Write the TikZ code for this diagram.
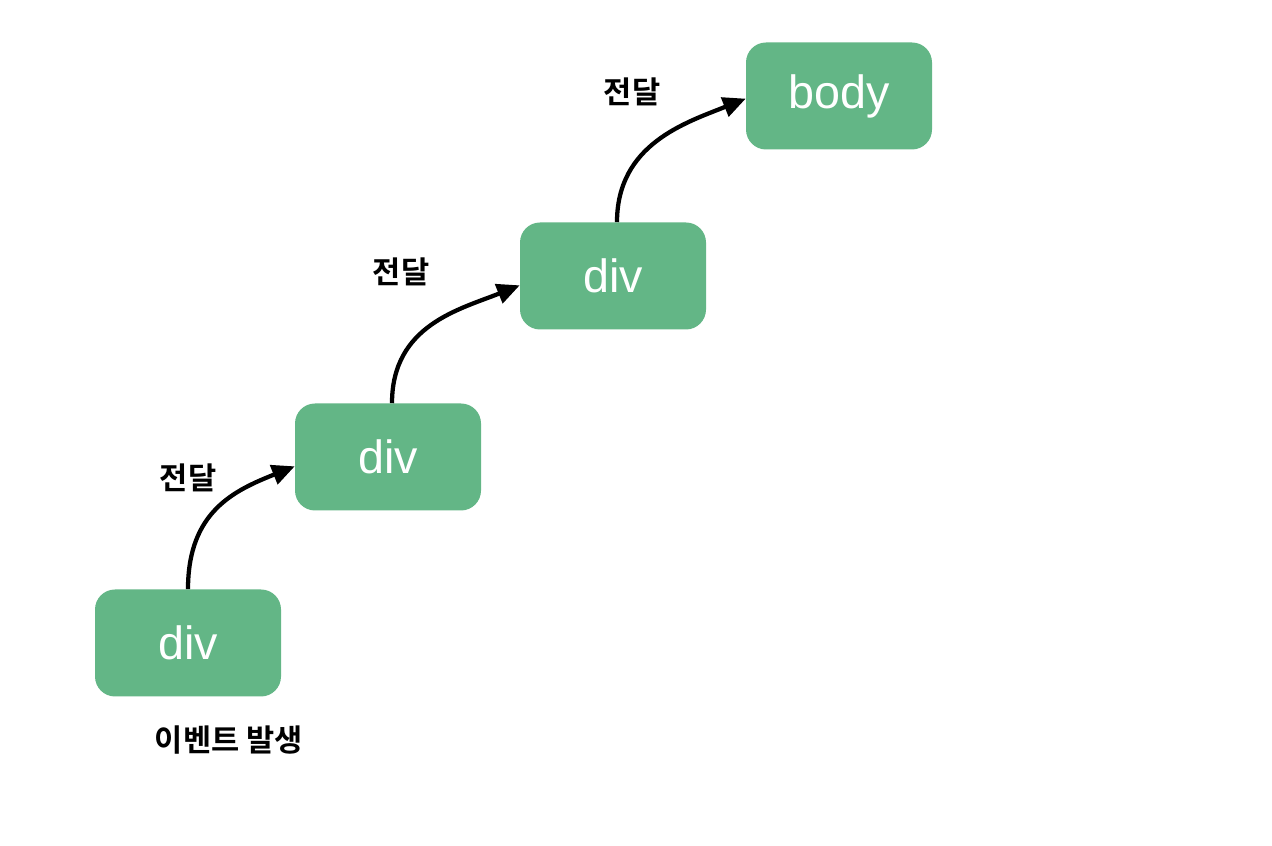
\documentclass[tikz,border=0pt]{standalone}
\usepackage{fontspec}
\setmainfont{Liberation Sans}
\newfontfamily\kr{Noto Sans CJK KR}[BoldFont={* Bold}]
\usetikzlibrary{arrows.meta}
\definecolor{boxgreen}{HTML}{63B686}
\tikzset{
  box/.style={rectangle, rounded corners=15pt, fill=boxgreen, text=white,
    minimum width=139.5pt, minimum height=80.25pt, inner sep=0pt,
    font=\fontsize{35}{40}\selectfont},
  lbl/.style={font=\kr\bfseries\fontsize{23}{27}\selectfont, text=black},
  flow/.style={line width=3.2pt, -{Triangle[length=17pt,width=15pt]}}
}
\begin{document}
\begin{tikzpicture}[x=0.75pt,y=0.75pt]
\useasboundingbox (0,0) rectangle (1272,846);
\node[box] (b1) at (188,203) {div};
\node[box] (b2) at (388,389) {div};
\node[box] (b3) at (613,570) {div};
\node[box] (b4) at (839,750) {body};
\node[lbl] (t1) at (188,368) {전달};
\node[lbl] (t2) at (401,574) {전달};
\node[lbl] (t3) at (632,754) {전달};
\node[lbl] (ev) at (229,106) {이벤트 발생};
\draw[flow] (b1.north) .. controls +(0,78) and +(-60,-24) .. ([yshift=-7pt]b2.west);
\draw[flow] ([xshift=3pt]b2.north) .. controls +(0,78) and +(-60,-24) .. ([yshift=-7pt]b3.west);
\draw[flow] ([xshift=3pt]b3.north) .. controls +(0,78) and +(-60,-24) .. ([yshift=-2pt]b4.west);
\end{tikzpicture}
\end{document}
